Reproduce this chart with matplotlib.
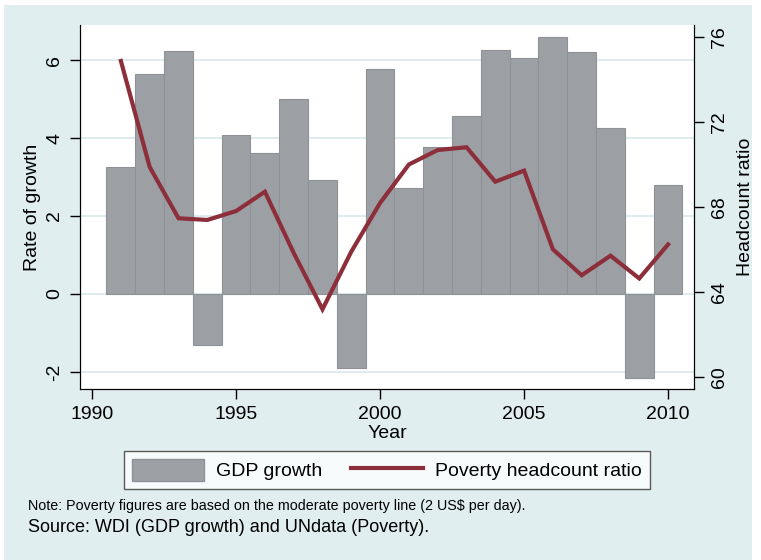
import matplotlib.pyplot as plt
from matplotlib.patches import Rectangle
from matplotlib.lines import Line2D

plt.rcParams['font.family'] = ['Liberation Sans', 'DejaVu Sans']

years = list(range(1991, 2011))
gdp_growth = [3.26, 5.63, 6.24, -1.32, 4.07, 3.61, 4.99, 2.91, -1.91, 5.76,
              2.73, 3.77, 4.56, 6.26, 6.06, 6.58, 6.21, 4.25, -2.15, 2.79]
poverty = [74.87, 69.88, 67.47, 67.39, 67.81, 68.72, 65.84, 63.19, 65.9, 68.19,
           70.0, 70.68, 70.81, 69.19, 69.71, 66.01, 64.79, 65.71, 64.64, 66.24]
left_ticks = [-2, 0, 2, 4, 6]
right_ticks = [60, 64, 68, 72, 76]
x_ticks = [1990, 1995, 2000, 2005, 2010]

bg = '#e0eef0'
bar_col = '#9c9fa4'
line_col = '#8c2f3b'
fs = 14

fig = plt.figure(figsize=(7.61, 5.60), dpi=100)
fig.patch.set_facecolor('white')
# light blue graph region with thin white margin
fig.patches.append(Rectangle((4 / 761, 0), 748 / 761, 555 / 560, transform=fig.transFigure,
                             facecolor=bg, edgecolor='none', zorder=-10))

ax = fig.add_axes([80 / 761, 1 - 389 / 560, 614 / 761, 364 / 560])
ax.set_facecolor('white')
ax.bar(years, gdp_growth, width=1.0, color=bar_col, edgecolor='#8e9196', linewidth=0.8, zorder=2)
ax.set_xlim(1989.58, 2010.9)
ax.set_ylim(-2.44, 6.9)
ax.set_yticks(left_ticks)
ax.set_yticklabels([str(t) for t in left_ticks], rotation=90, va='center')
ax.set_xticks(x_ticks)
ax.grid(axis='y', color='#d8e8ec', linewidth=1.2, zorder=0)
ax.set_axisbelow(True)
ax.spines['top'].set_visible(False)
ax.tick_params(labelsize=fs, length=7, width=1, colors='black', pad=5)
ax.set_xlabel('Year', fontsize=fs, labelpad=2)
ax.set_ylabel('Rate of growth', fontsize=fs, labelpad=4)

ax2 = ax.twinx()
ax2.plot(years, poverty, color=line_col, linewidth=3, solid_joinstyle='miter', zorder=3)
ax2.set_ylim(59.44, 76.56)
ax2.set_yticks(right_ticks)
ax2.set_yticklabels([str(t) for t in right_ticks], rotation=90, va='center')
ax2.spines['top'].set_visible(False)
ax2.tick_params(labelsize=fs, length=7, width=1, pad=5)
ax2.set_ylabel('Headcount ratio', fontsize=fs, labelpad=7)

handles = [Rectangle((0, 0), 1, 1, facecolor=bar_col, edgecolor='#8e9196'),
           Line2D([0], [0], color=line_col, linewidth=3)]
leg = fig.legend(handles, ['GDP growth', 'Poverty headcount ratio'], ncol=2,
                 loc='center', bbox_to_anchor=(387 / 761, 1 - 470 / 560),
                 fontsize=fs, frameon=True, fancybox=False, edgecolor='#333333',
                 handlelength=3.7, handleheight=1.35, handletextpad=0.62,
                 columnspacing=1.5, borderpad=0.4, borderaxespad=0)
leg.get_frame().set_linewidth(1)

fig.text(28 / 761, 1 - 506 / 560, 'Note: Poverty figures are based on the moderate poverty line (2 US$ per day).',
         fontsize=10.3, va='center', ha='left')
fig.text(28 / 761, 1 - 527 / 560, 'Source: WDI (GDP growth) and UNdata (Poverty).',
         fontsize=13, va='center', ha='left')

fig.savefig('out.png', dpi=100, facecolor=fig.get_facecolor())
